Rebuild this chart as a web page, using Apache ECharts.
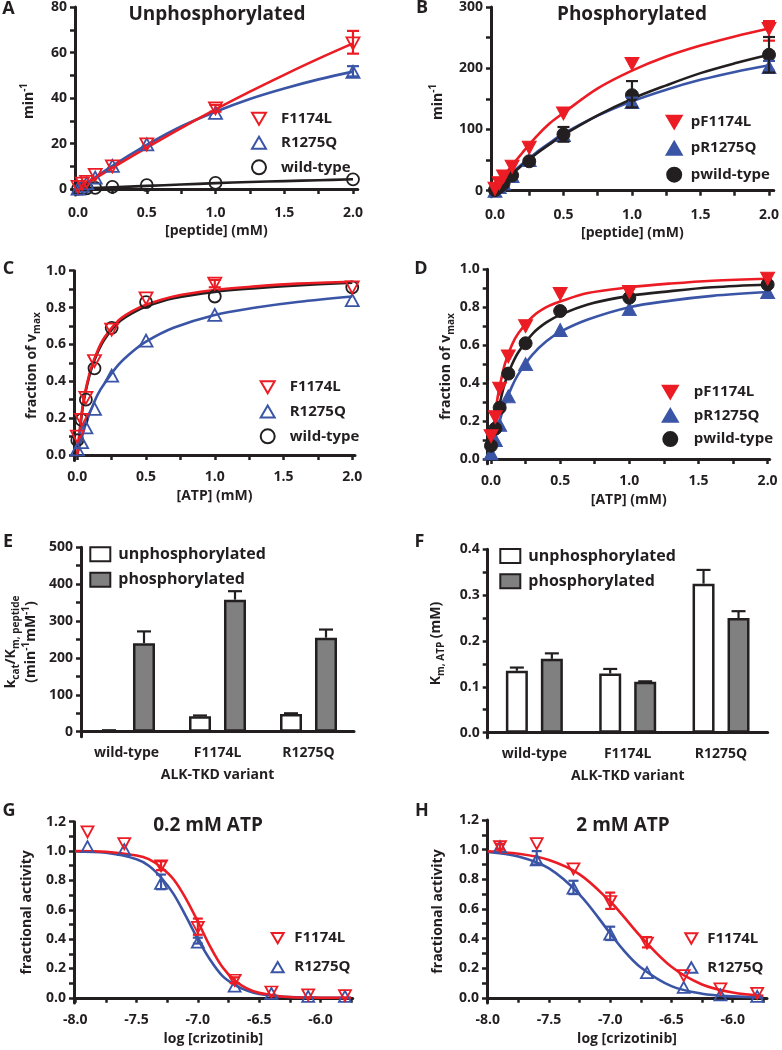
<!DOCTYPE html>
<html><head><meta charset="utf-8">
<script src="https://cdn.jsdelivr.net/npm/echarts@6/dist/echarts.min.js"></script>
<style>html,body{margin:0;padding:0;background:#fff}#c{width:782px;height:1050px}</style>
</head><body><div id="c"></div>
<script>
// ---------------- DATA ----------------
const peptideX = [0, 0.03125, 0.0625, 0.125, 0.25, 0.5, 1, 2];
const atpX = [0, 0.03125, 0.0625, 0.125, 0.25, 0.5, 1, 2];
const logCriz = [-7.9, -7.6, -7.3, -7.0, -6.7, -6.4, -6.1, -5.8];

// A: unphosphorylated, min^-1
const A_F1174L = [1.0, 2.4, 3.2, 6.2, 10.0, 19.6, 35.5, 64.0];
const A_R1275Q = [0.2, 1.4, 2.6, 5.0, 10.2, 19.6, 33.5, 51.5];
const A_WT = [0.1, 0.2, 0.3, 0.5, 1.0, 1.7, 2.7, 4.3];
const A_fitX = [0, 0.25, 0.5, 0.75, 1, 1.25, 1.5, 1.75, 2];
const A_fit_F1174L = [0, 9.3, 18.2, 26.8, 35.0, 42.8, 50.2, 57.3, 64.0];
const A_fit_R1275Q = [0, 10.2, 19.4, 27.5, 34.0, 39.6, 44.2, 48.2, 51.6];
const A_fit_WT = [0.2, 0.8, 1.4, 2.0, 2.6, 3.1, 3.5, 3.9, 4.3];
const A_err_F1174L = [[2, 59.5, 69.5], [1, 34, 37]];
const A_err_R1275Q = [[2, 49.5, 54]];

// B: phosphorylated, min^-1
const B_pF1174L = [3, 12, 23, 39, 70, 126, 207, 264];
const B_pR1275Q = [0, 6, 12, 24, 50, 91, 145, 202];
const B_pWT = [1, 6, 12, 25, 48, 92, 156, 222];
const B_fitX = [0, 0.1, 0.2, 0.3, 0.4, 0.5, 0.75, 1, 1.25, 1.5, 1.75, 2];
const B_fit_pF1174L = [0, 34, 62, 88, 110, 127, 167, 196, 219, 237, 252, 265];
const B_fit_pR1275Q = [0, 23.5, 44, 62, 78, 93, 122.5, 146, 165, 181, 194, 205];
const B_fit_pWT = [0, 22, 42, 60, 76, 91, 123, 150, 172, 192, 208, 222];
const B_err_pF1174L = [[2, 245, 277]];
const B_err_pR1275Q = [[2, 196, 212], [1, 138, 152]];
const B_err_pWT = [[2, 193, 251], [1, 136, 179], [0.5, 80, 104]];

// C: fraction of vmax (unphosphorylated)
const C_F1174L = [0.10, 0.19, 0.31, 0.51, 0.68, 0.85, 0.93, 0.91];
const C_R1275Q = [0.03, 0.07, 0.15, 0.25, 0.43, 0.62, 0.76, 0.84];
const C_WT = [0.08, 0.19, 0.30, 0.47, 0.69, 0.83, 0.86, 0.91];
const ATP_fitX = [0, 0.02, 0.04, 0.0625, 0.1, 0.15, 0.2, 0.3, 0.4, 0.5, 0.7, 1, 1.3, 1.6, 2];
const C_fit_F1174L = [0, 0.15, 0.27, 0.36, 0.47, 0.57, 0.64, 0.73, 0.78, 0.815, 0.86, 0.895, 0.915, 0.93, 0.94];
const C_fit_WT = [0, 0.14, 0.26, 0.35, 0.46, 0.56, 0.63, 0.72, 0.77, 0.805, 0.85, 0.885, 0.905, 0.92, 0.935];
const C_fit_R1275Q = [0, 0.06, 0.115, 0.17, 0.245, 0.33, 0.39, 0.49, 0.56, 0.615, 0.69, 0.76, 0.80, 0.83, 0.86];
const C_err_F1174L = [[1, 0.91, 0.95]];

// D: fraction of vmax (phosphorylated)
const D_pF1174L = [0.12, 0.22, 0.37, 0.54, 0.70, 0.87, 0.88, 0.95];
const D_pR1275Q = [0.03, 0.10, 0.18, 0.33, 0.50, 0.68, 0.79, 0.88];
const D_pWT = [0.07, 0.16, 0.27, 0.45, 0.61, 0.78, 0.85, 0.92];
const D_fit_pF1174L = [0, 0.17, 0.29, 0.38, 0.50, 0.60, 0.665, 0.75, 0.80, 0.83, 0.875, 0.905, 0.925, 0.94, 0.95];
const D_fit_pWT = [0, 0.12, 0.21, 0.29, 0.40, 0.495, 0.565, 0.66, 0.72, 0.76, 0.815, 0.86, 0.885, 0.905, 0.92];
const D_fit_pR1275Q = [0, 0.075, 0.14, 0.20, 0.29, 0.38, 0.45, 0.55, 0.62, 0.67, 0.735, 0.80, 0.835, 0.86, 0.88];

// E, F: bar charts
const variants = ['wild-type', 'F1174L', 'R1275Q'];
const E_unphos = [3, 42, 48];
const E_phos = [240, 358, 255];
const E_unphos_hi = [4, 44, 50];
const E_phos_hi = [272, 381, 277];
const F_unphos = [0.135, 0.129, 0.325];
const F_phos = [0.161, 0.111, 0.250];
const F_unphos_hi = [0.142, 0.139, 0.355];
const F_phos_hi = [0.173, 0.112, 0.265];

// G: 0.2 mM ATP
const G_F1174L = [1.13, 1.05, 0.90, 0.48, 0.12, 0.04, 0.02, 0.015];
const G_R1275Q = [1.03, 1.01, 0.78, 0.38, 0.08, 0.03, 0.01, 0.01];
const G_fitX = [-8, -7.75, -7.5, -7.4, -7.3, -7.2, -7.1, -7.0, -6.9, -6.8, -6.7, -6.6, -6.5, -6.3, -6.0, -5.75];
const G_fit_F1174L = [1.0, 0.995, 0.97, 0.945, 0.89, 0.81, 0.68, 0.52, 0.35, 0.21, 0.12, 0.064, 0.034, 0.008, 0.001, 0];
const G_fit_R1275Q = [0.998, 0.988, 0.945, 0.90, 0.82, 0.71, 0.56, 0.40, 0.26, 0.15, 0.089, 0.05, 0.027, 0.008, 0.001, 0];
const G_err_F1174L = [[-7.3, 0.87, 0.93], [-7.0, 0.43, 0.54], [-6.7, 0.10, 0.14]];
const G_err_R1275Q = [[-7.3, 0.74, 0.84], [-7.0, 0.37, 0.41]];

// H: 2 mM ATP
const H_F1174L = [1.02, 1.04, 0.87, 0.65, 0.37, 0.15, 0.06, 0.03];
const H_R1275Q = [1.02, 0.93, 0.74, 0.43, 0.17, 0.07, 0.02, 0.01];
const H_fitX = [-8, -7.75, -7.5, -7.25, -7.0, -6.9, -6.75, -6.5, -6.25, -6.0, -5.75];
const H_fit_F1174L = [0.989, 0.972, 0.93, 0.833, 0.65, 0.558, 0.413, 0.209, 0.09, 0.036, 0.014];
const H_fit_R1275Q = [0.984, 0.953, 0.873, 0.697, 0.435, 0.33, 0.205, 0.079, 0.028, 0.0096, 0.003];
const H_err_F1174L = [[-7.0, 0.60, 0.71], [-6.7, 0.34, 0.41], [-7.9, 1.0, 1.04]];
const H_err_R1275Q = [[-7.6, 0.90, 0.99], [-7.3, 0.70, 0.79], [-7.0, 0.39, 0.48]];

// tick labels
const pepLabels = [0, 0.5, 1, 1.5, 2];
const logLabels = [-8, -7.5, -7, -6.5, -6];
const A_yLabels = [0, 20, 40, 60, 80];
const B_yLabels = [0, 100, 200, 300];
const frac_yLabels = [0, 0.2, 0.4, 0.6, 0.8, 1.0];
const E_yLabels = [0, 100, 200, 300, 400, 500];
const F_yLabels = [0, 0.1, 0.2, 0.3, 0.4];
const act_yLabels = [0, 0.2, 0.4, 0.6, 0.8, 1.0, 1.2];

// ---------------- STYLE / BUILD ----------------
const RED = '#ec1c24', BLUE = '#3b55a6', BLACK = '#231f20', GRAY = '#808080';
const FONT = '"Open Sans", "Liberation Sans", sans-serif';
const ICON_DOWN = 'path://M0,0L14,0L7,12Z';
const ICON_UP = 'path://M7,0L14,12L0,12Z';
const ICON_CIRCLE = 'path://M7,0A7,7,0,1,1,7,14A7,7,0,1,1,7,0Z';
const grids = [], xAxes = [], yAxes = [], series = [], legends = [], graphics = [];

function steps(a, b, s) { const r = []; const n = Math.round((b - a) / s); for (let i = 0; i <= n; i++) r.push(+(a + i * s).toFixed(4)); return r; }
const pairs = (xs, ys) => xs.map((x, i) => [x, ys[i]]);
const nameStyle = {
  fontSize: 14, fontWeight: 'bold', fontFamily: FONT, color: BLACK, lineHeight: 20,
  rich: {
    sub: { fontSize: 10, fontWeight: 'bold', fontFamily: FONT, color: BLACK, lineHeight: 11, verticalAlign: 'bottom' },
    sup: { fontSize: 10, fontWeight: 'bold', fontFamily: FONT, color: BLACK, lineHeight: 11, verticalAlign: 'top' }
  }
};
const labelStyle = { fontSize: 14, fontWeight: 'bold', fontFamily: FONT, color: BLACK };

function addPanel(p) {
  const gi = grids.length;
  grids.push({ left: p.left, top: p.top, width: p.width, height: p.height });
  const xa = {
    gridIndex: gi, type: p.xType || 'value',
    name: p.xName, nameLocation: 'middle', nameGap: p.xNameGap, nameTextStyle: nameStyle,
    axisLine: { show: true, onZero: true, lineStyle: { color: BLACK, width: 3 } },
    splitLine: { show: false },
    axisLabel: Object.assign({ margin: p.xLabelMargin }, labelStyle)
  };
  if (p.xType === 'category') {
    xa.data = p.xData;
    xa.axisTick = { show: false };
  } else {
    xa.min = p.xMin; xa.max = p.xMax;
    xa.axisTick = { show: true, customValues: p.xTicks, length: 5, lineStyle: { color: BLACK, width: 2.5 } };
    xa.axisLabel.customValues = p.xLabels;
    xa.axisLabel.formatter = v => (+v).toFixed(1);
  }
  xAxes.push(xa);
  yAxes.push({
    gridIndex: gi, type: 'value', min: p.yMin, max: p.yMax,
    name: p.yName, nameLocation: 'middle', nameGap: p.yNameGap, nameRotate: 90, nameTextStyle: nameStyle,
    axisLine: { show: true, onZero: false, lineStyle: { color: BLACK, width: 3 } },
    axisTick: { show: true, customValues: p.yTicks, length: 5, lineStyle: { color: BLACK, width: 2.5 } },
    axisLabel: Object.assign({ margin: 8, customValues: p.yLabels, formatter: p.yFmt }, labelStyle),
    splitLine: { show: false }
  });
  return gi;
}

function fitLine(gi, xs, ys, color) {
  series.push({ type: 'line', xAxisIndex: gi, yAxisIndex: gi, data: pairs(xs, ys), showSymbol: false,
    smooth: 0.35, lineStyle: { color, width: 2.6 }, z: 2, silent: true });
}
function points(gi, name, xs, ys, color, kind, filled, size) {
  series.push({ type: 'scatter', name, xAxisIndex: gi, yAxisIndex: gi, data: pairs(xs, ys), clip: false,
    symbol: kind === 'circle' ? 'circle' : 'triangle', symbolRotate: kind === 'down' ? 180 : 0,
    symbolSize: kind === 'circle' ? size : [size + 1, size],
    itemStyle: filled ? { color, borderColor: color, borderWidth: 1, opacity: 1 }
                      : { color: 'rgba(255,255,255,0)', borderColor: color, borderWidth: 1.8, opacity: 1 },
    z: 4, silent: true });
}
function errBars(gi, data, color, offset, upOnly, cap) {
  series.push({ type: 'custom', xAxisIndex: gi, yAxisIndex: gi, data, clip: false, silent: true, z: 5,
    encode: { x: 0, y: [1, 2] },
    renderItem(params, api) {
      const x = api.value(0);
      const lo = api.coord([x, api.value(1)]), hi = api.coord([x, api.value(2)]);
      const cx = lo[0] + offset;
      const style = { stroke: color, lineWidth: 2.2 };
      const ch = [
        { type: 'line', shape: { x1: cx, y1: lo[1], x2: cx, y2: hi[1] }, style },
        { type: 'line', shape: { x1: cx - cap, y1: hi[1], x2: cx + cap, y2: hi[1] }, style }
      ];
      if (!upOnly) ch.push({ type: 'line', shape: { x1: cx - cap, y1: lo[1], x2: cx + cap, y2: lo[1] }, style });
      return { type: 'group', children: ch };
    }
  });
}
function legend(items, left, top, w, h, gap, pad, fontSize, icon) {
  const l = { orient: 'vertical', left, top, padding: 0, itemWidth: w, itemHeight: h, itemGap: gap, data: items,
    selectedMode: false, symbolKeepAspect: true,
    textStyle: { fontSize, fontWeight: 'bold', fontFamily: FONT, color: BLACK, lineHeight: h, padding: [0, 0, 0, pad] } };
  if (icon) l.icon = icon;
  legends.push(l);
}
function text(str, x, y, size) {
  graphics.push({ type: 'text', x, y, silent: true,
    style: { text: str, font: `bold ${size}px ${FONT}`, fill: BLACK, align: 'center', verticalAlign: 'middle' } });
}
const openLegend = [{ name: 'F1174L', icon: ICON_DOWN }, { name: 'R1275Q', icon: ICON_UP }, { name: 'wild-type', icon: ICON_CIRCLE }];
const filledLegend = [{ name: 'pF1174L', icon: ICON_DOWN }, { name: 'pR1275Q', icon: ICON_UP }, { name: 'pwild-type', icon: ICON_CIRCLE }];

// Panel A
let g = addPanel({ left: 75, top: 6, width: 282.8, height: 189, xMin: -0.022, xMax: 2.035, yMin: -2.6, yMax: 80,
  xTicks: steps(0, 2, 0.25), xLabels: pepLabels, yTicks: steps(0, 80, 10), yLabels: A_yLabels, yFmt: v => String(v),
  xName: '[peptide] (mM)', xNameGap: 26, xLabelMargin: 11, yName: 'min{sup|-1}', yNameGap: 36 });
fitLine(g, A_fitX, A_fit_WT, BLACK);
fitLine(g, A_fitX, A_fit_R1275Q, BLUE);
fitLine(g, A_fitX, A_fit_F1174L, RED);
points(g, 'wild-type', peptideX, A_WT, BLACK, 'circle', false, 12);
points(g, 'R1275Q', peptideX, A_R1275Q, BLUE, 'up', false, 12);
points(g, 'F1174L', peptideX, A_F1174L, RED, 'down', false, 12);
errBars(g, A_err_F1174L, RED, 0, false, 6);
errBars(g, A_err_R1275Q, BLUE, 0, false, 6);
legend(openLegend, 251, 111.3, 14, 14, 9, 10, 15);

// Panel B
g = addPanel({ left: 491, top: 6.7, width: 284.8, height: 190.1, xMin: -0.029, xMax: 2.035, yMin: -10, yMax: 300,
  xTicks: steps(0, 2, 0.25), xLabels: pepLabels, yTicks: steps(0, 300, 50), yLabels: B_yLabels, yFmt: v => String(v),
  xName: '[peptide] (mM)', xNameGap: 26, xLabelMargin: 11, yName: 'min{sup|-1}', yNameGap: 43 });
fitLine(g, B_fitX, B_fit_pR1275Q, BLUE);
fitLine(g, B_fitX, B_fit_pWT, BLACK);
fitLine(g, B_fitX, B_fit_pF1174L, RED);
points(g, 'pR1275Q', peptideX, B_pR1275Q, BLUE, 'up', true, 13);
points(g, 'pwild-type', peptideX, B_pWT, BLACK, 'circle', true, 13);
points(g, 'pF1174L', peptideX, B_pF1174L, RED, 'down', true, 13);
errBars(g, B_err_pF1174L, RED, 0, false, 6);
errBars(g, B_err_pR1275Q, BLUE, 0, false, 6);
errBars(g, B_err_pWT, BLACK, 0, false, 6);
legend(filledLegend, 665.7, 114.7, 15, 14, 11, 4, 15);

// Panel C
g = addPanel({ left: 74, top: 270.7, width: 281, height: 189.8, xMin: -0.024, xMax: 2.02, yMin: -0.03, yMax: 1.0,
  xTicks: steps(0, 2, 0.25), xLabels: pepLabels, yTicks: steps(0, 1, 0.1), yLabels: frac_yLabels, yFmt: v => (+v).toFixed(1),
  xName: '[ATP] (mM)', xNameGap: 26, xLabelMargin: 10, yName: 'fraction of v{sub|max}', yNameGap: 28 });
fitLine(g, ATP_fitX, C_fit_R1275Q, BLUE);
fitLine(g, ATP_fitX, C_fit_WT, BLACK);
fitLine(g, ATP_fitX, C_fit_F1174L, RED);
points(g, 'wild-type', atpX, C_WT, BLACK, 'circle', false, 12);
points(g, 'R1275Q', atpX, C_R1275Q, BLUE, 'up', false, 12);
points(g, 'F1174L', atpX, C_F1174L, RED, 'down', false, 12);
errBars(g, C_err_F1174L, RED, 0, false, 6);
legend(openLegend, 259.7, 379.7, 14, 14, 9.3, 10, 15);

// Panel D
g = addPanel({ left: 487.7, top: 269.3, width: 282, height: 194.4, xMin: -0.024, xMax: 2.015, yMin: -0.025, yMax: 1.0,
  xTicks: steps(0, 2, 0.25), xLabels: pepLabels, yTicks: steps(0, 1, 0.1), yLabels: frac_yLabels, yFmt: v => (+v).toFixed(1),
  xName: '[ATP] (mM)', xNameGap: 26, xLabelMargin: 10, yName: 'fraction of v{sub|max}', yNameGap: 26 });
fitLine(g, ATP_fitX, D_fit_pR1275Q, BLUE);
fitLine(g, ATP_fitX, D_fit_pWT, BLACK);
fitLine(g, ATP_fitX, D_fit_pF1174L, RED);
points(g, 'pR1275Q', atpX, D_pR1275Q, BLUE, 'up', true, 13);
points(g, 'pwild-type', atpX, D_pWT, BLACK, 'circle', true, 13);
points(g, 'pF1174L', atpX, D_pF1174L, RED, 'down', true, 13);
legend(filledLegend, 661.8, 384.7, 15, 14, 8.2, 11, 15);

// Panel E
g = addPanel({ left: 75, top: 547.3, width: 279, height: 189.4, xType: 'category', xData: variants, yMin: -13.5, yMax: 500,
  yTicks: steps(0, 500, 50), yLabels: E_yLabels, yFmt: v => String(v),
  xName: 'ALK-TKD variant', xNameGap: 28, xLabelMargin: 9,
  yName: 'k{sub|cat}/K{sub|m, peptide}\n(min{sup|-1}mM{sup|-1})', yNameGap: 40 });
series.push({ type: 'bar', name: 'unphosphorylated', xAxisIndex: g, yAxisIndex: g, data: E_unphos, barWidth: 22, barGap: '59%',
  itemStyle: { color: '#ffffff', borderColor: BLACK, borderWidth: 2.5 }, z: 2, silent: true });
series.push({ type: 'bar', name: 'phosphorylated', xAxisIndex: g, yAxisIndex: g, data: E_phos, barWidth: 22, barGap: '59%',
  itemStyle: { color: GRAY, borderColor: BLACK, borderWidth: 2.5 }, z: 2, silent: true });
errBars(g, variants.map((v, i) => [i, E_unphos[i], E_unphos_hi[i]]), BLACK, -17.5, true, 7);
errBars(g, variants.map((v, i) => [i, E_phos[i], E_phos_hi[i]]), BLACK, 17.5, true, 7);
legend(['unphosphorylated', 'phosphorylated'], 89.3, 546.3, 20, 14, 9.4, 3, 16, 'rect');

// Panel F
g = addPanel({ left: 487.7, top: 549.3, width: 280, height: 188.4, xType: 'category', xData: variants, yMin: -0.011, yMax: 0.4,
  yTicks: steps(0, 0.4, 0.05), yLabels: F_yLabels, yFmt: v => (+v).toFixed(1),
  xName: 'ALK-TKD variant', xNameGap: 28, xLabelMargin: 9,
  yName: 'K{sub|m, ATP} (mM)', yNameGap: 42 });
series.push({ type: 'bar', name: 'unphosphorylated', xAxisIndex: g, yAxisIndex: g, data: F_unphos, barWidth: 22, barGap: '59%',
  itemStyle: { color: '#ffffff', borderColor: BLACK, borderWidth: 2.5 }, z: 2, silent: true });
series.push({ type: 'bar', name: 'phosphorylated', xAxisIndex: g, yAxisIndex: g, data: F_phos, barWidth: 22, barGap: '59%',
  itemStyle: { color: GRAY, borderColor: BLACK, borderWidth: 2.5 }, z: 2, silent: true });
errBars(g, variants.map((v, i) => [i, F_unphos[i], F_unphos_hi[i]]), BLACK, -17.5, true, 7);
errBars(g, variants.map((v, i) => [i, F_phos[i], F_phos_hi[i]]), BLACK, 17.5, true, 7);
legend(['unphosphorylated', 'phosphorylated'], 499.3, 548, 20, 14, 9.3, 3, 16, 'rect');

// Panel G
g = addPanel({ left: 74, top: 821.7, width: 278.7, height: 189.7, xMin: -8.01, xMax: -5.737, yMin: -0.035, yMax: 1.2,
  xTicks: steps(-8, -5.75, 0.25), xLabels: logLabels, yTicks: steps(0, 1.2, 0.1), yLabels: act_yLabels, yFmt: v => (+v).toFixed(1),
  xName: 'log [crizotinib]', xNameGap: 26, xLabelMargin: 10, yName: 'fractional activity', yNameGap: 37 });
fitLine(g, G_fitX, G_fit_R1275Q, BLUE);
fitLine(g, G_fitX, G_fit_F1174L, RED);
points(g, 'R1275Q', logCriz, G_R1275Q, BLUE, 'up', false, 11);
points(g, 'F1174L', logCriz, G_F1174L, RED, 'down', false, 11);
errBars(g, G_err_F1174L, RED, 0, false, 5);
errBars(g, G_err_R1275Q, BLUE, 0, false, 5);
legend(openLegend.slice(0, 2), 270.7, 930.7, 12, 12, 14, 5.6, 15);

// Panel H
g = addPanel({ left: 487, top: 820, width: 280, height: 189.4, xMin: -8.006, xMax: -5.72, yMin: -0.035, yMax: 1.2,
  xTicks: steps(-8, -5.75, 0.25), xLabels: logLabels, yTicks: steps(0, 1.2, 0.1), yLabels: act_yLabels, yFmt: v => (+v).toFixed(1),
  xName: 'log [crizotinib]', xNameGap: 26, xLabelMargin: 10, yName: 'fractional activity', yNameGap: 39 });
fitLine(g, H_fitX, H_fit_R1275Q, BLUE);
fitLine(g, H_fitX, H_fit_F1174L, RED);
points(g, 'R1275Q', logCriz, H_R1275Q, BLUE, 'up', false, 11);
points(g, 'F1174L', logCriz, H_F1174L, RED, 'down', false, 11);
errBars(g, H_err_F1174L, RED, 0, false, 5);
errBars(g, H_err_R1275Q, BLUE, 0, false, 5);
legend(openLegend.slice(0, 2), 684.3, 931, 12, 12, 14, 5, 15);

// titles & panel letters
text('Unphosphorylated', 217, 15, 19);
text('Phosphorylated', 632, 15, 19);
text('0.2 mM ATP', 208, 826, 19);
text('2 mM ATP', 623, 826, 19);
[['A', 8.5, 9], ['B', 422, 8], ['C', 8.5, 269], ['D', 421, 269], ['E', 8, 542], ['F', 419.5, 542], ['G', 9, 811], ['H', 422, 811]]
  .forEach(([t, x, y]) => text(t, x, y, 18));

const chart = echarts.init(document.getElementById('c'), null, { renderer: 'canvas' });
chart.setOption({ animation: false, backgroundColor: '#ffffff', grid: grids, xAxis: xAxes, yAxis: yAxes,
  series, legend: legends, graphic: graphics });
</script></body></html>
